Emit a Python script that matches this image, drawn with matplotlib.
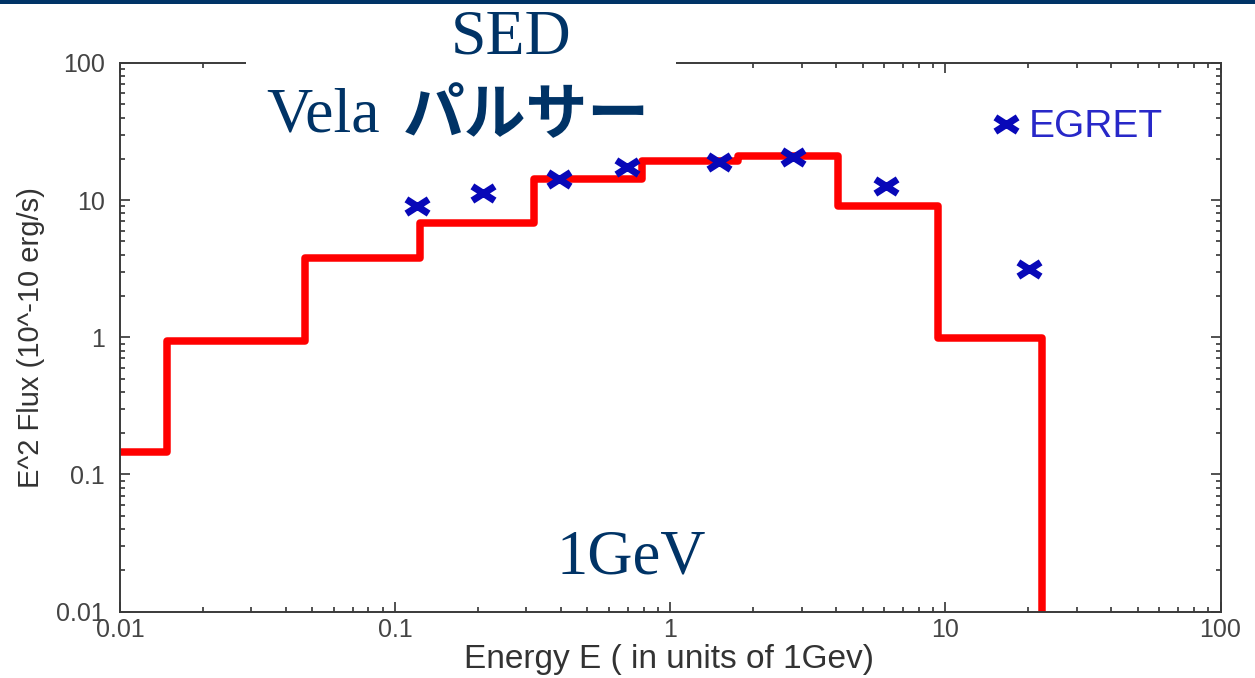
import matplotlib
matplotlib.use('Agg')
import matplotlib.pyplot as plt
from matplotlib.patches import Rectangle
from matplotlib.path import Path

# ---- data ----
bin_edges = [0.01, 0.0148, 0.047, 0.123, 0.32, 0.789, 1.77, 4.08, 9.37, 22.5]
model_flux = [0.146, 0.937, 3.79, 6.84, 14.2, 19.4, 21.0, 9.06, 0.98]
floor_flux = [0.01]
egret_energy = [0.120, 0.208, 0.393, 0.697, 1.51, 2.79, 6.08, 20.2]
egret_flux = [9.1, 11.2, 14.3, 17.3, 18.9, 20.5, 12.7, 3.15]
x_ticks = [0.01, 0.1, 1, 10, 100]
x_tick_labels = ['0.01', '0.1', '1', '10', '100']
y_ticks = [0.01, 0.1, 1, 10, 100]
y_tick_labels = ['0.01', '0.1', '1', '10', '100']

NAVY = '#003366'
W, H = 1255, 678

fig = plt.figure(figsize=(W / 100, H / 100), dpi=100)
fig.patch.set_facecolor('white')
ax = fig.add_axes([120 / W, 1 - 611.5 / H, 1100.5 / W, 548.5 / H])

ax.set_xscale('log')
ax.set_yscale('log')

ax.step(bin_edges, model_flux + floor_flux, where='post', color='#ff0000',
        lw=5.4, zorder=2)

xmark = Path([(-1, -0.64), (1, 0.64), (-1, 0.64), (1, -0.64)],
             [Path.MOVETO, Path.LINETO, Path.MOVETO, Path.LINETO])
ax.plot(egret_energy, egret_flux, linestyle='none', marker=xmark,
        markersize=16, markeredgewidth=5.0, markeredgecolor='#0808b8',
        markerfacecolor='none', label='EGRET', zorder=3)

ax.set_xlim(0.01, 100)
ax.set_ylim(0.01, 100)
ax.set_xticks(x_ticks)
ax.set_xticklabels(x_tick_labels)
ax.set_yticks(y_ticks)
ax.set_yticklabels(y_tick_labels)

for sp in ax.spines.values():
    sp.set_color('#3a3a3a')
    sp.set_linewidth(1.4)

ax.tick_params(which='both', direction='in', top=True, right=True,
               color='#333333', width=1.2)
ax.tick_params(which='major', length=7)
ax.tick_params(which='minor', length=3.5)
ax.tick_params(axis='x', which='major', pad=5, labelsize=18, labelcolor='#444444')
ax.tick_params(axis='y', which='major', pad=11, labelsize=18, labelcolor='#444444')
for lab in ax.get_xticklabels() + ax.get_yticklabels():
    lab.set_family('Liberation Sans')

leg = ax.legend(loc='center left', bbox_to_anchor=(0.7905, 0.8825),
                frameon=False, handlelength=0.8,
                handletextpad=0.2, borderpad=0, borderaxespad=0,
                labelcolor='#2828c8', prop={'family': 'Liberation Sans', 'size': 28})

fig.text(31 / W, 1 - 338 / H, 'E^2 Flux (10^-10 erg/s)', rotation=90,
         ha='center', va='center', fontsize=21, color='#333333',
         family='Liberation Sans')
fig.text(669 / W, 1 - 668 / H, 'Energy E ( in units of 1Gev)', ha='center',
         va='baseline', fontsize=24, color='#333333', family='Liberation Sans')

# top rule and title box
fig.add_artist(Rectangle((0, 1 - 4 / H), 1, 4 / H, transform=fig.transFigure,
                         facecolor=NAVY, edgecolor='none', zorder=10))
fig.add_artist(Rectangle((246 / W, 1 - 150 / H), 430 / W, 144 / H,
                         transform=fig.transFigure, facecolor='white',
                         edgecolor='none', zorder=5))
fig.text(511 / W, 1 - 53 / H, 'SED', ha='center', va='baseline', fontsize=46,
         family='Liberation Serif', color=NAVY, zorder=6)
fig.text(266 / W, 1 - 132 / H, 'Vela', ha='left', va='baseline', fontsize=46,
         family='Liberation Serif', color=NAVY, zorder=6)
fig.text(403 / W, 1 - 134 / H, 'パルサー', ha='left', va='baseline', fontsize=44.5,
         family=['Noto Sans CJK JP'], weight='bold', color=NAVY, zorder=6)
fig.text(556 / W, 1 - 573 / H, '1GeV', ha='left', va='baseline', fontsize=45,
         family='Liberation Serif', color=NAVY, zorder=6)

fig.savefig('out.png', dpi=100)
